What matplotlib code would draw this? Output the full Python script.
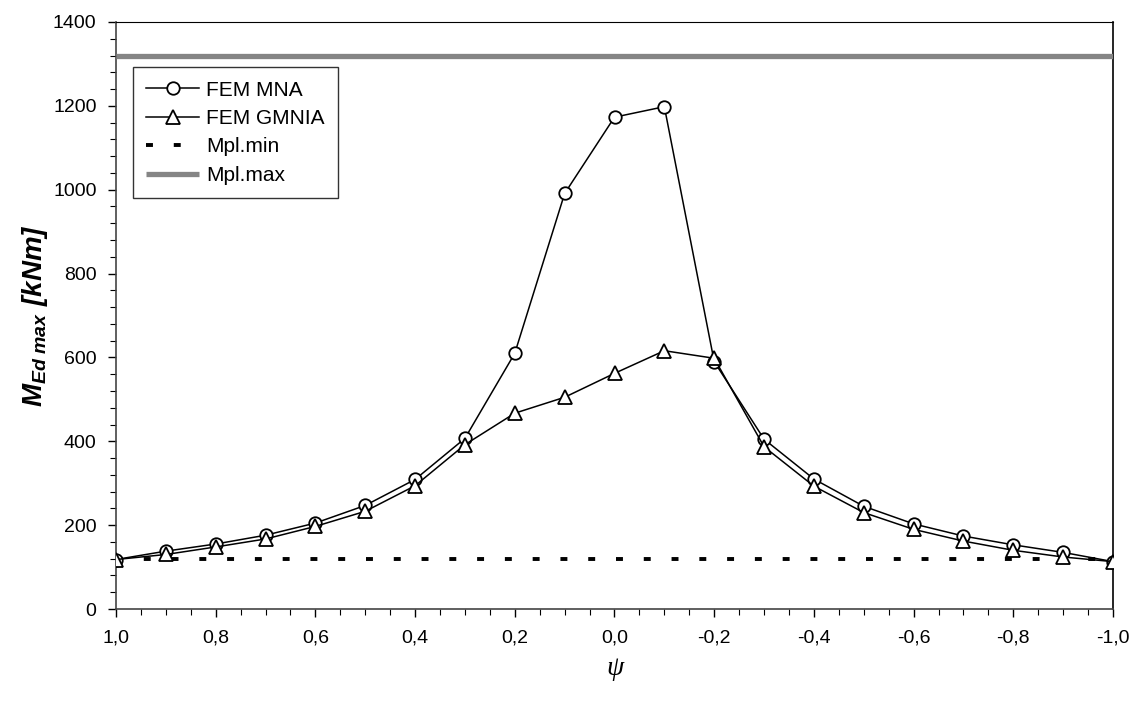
import matplotlib
matplotlib.use("Agg")
import matplotlib.pyplot as plt
from matplotlib.ticker import MultipleLocator, FuncFormatter

plt.rcParams['font.family'] = ['Liberation Sans', 'DejaVu Sans']
plt.rcParams['mathtext.fontset'] = 'custom'
plt.rcParams['mathtext.it'] = 'Liberation Sans:bold:italic'
plt.rcParams['mathtext.rm'] = 'Liberation Sans:bold:italic'
plt.rcParams['lines.scale_dashes'] = False

# ---- data ----
psi = [1.0, 0.9, 0.8, 0.7, 0.6, 0.5, 0.4, 0.3, 0.2, 0.1, 0.0,
       -0.1, -0.2, -0.3, -0.4, -0.5, -0.6, -0.7, -0.8, -0.9, -1.0]
fem_mna = [118, 138, 155, 176, 205, 247, 309, 407, 610, 991, 1173,
           1198, 590, 405, 310, 245, 203, 174, 153, 135, 113]
fem_gmnia = [118, 130, 148, 167, 197, 233, 294, 392, 467, 505, 562,
             616, 598, 387, 293, 230, 190, 162, 140, 124, 113]
mpl_psi = [1.0, -1.0]
mpl_min = [120, 120]
mpl_max = [1320, 1320]

fig = plt.figure(figsize=(11.4, 7.08), dpi=100)
ax = fig.add_axes([116/1140, 1 - 609/708, (1113-116)/1140, (609-22)/708])

ax.plot(psi, fem_mna, color='black', lw=1.1, marker='o', ms=9,
        mfc='white', mec='black', mew=1.3, label='FEM MNA', zorder=4)
ax.plot(psi, fem_gmnia, color='black', lw=1.1, marker='^', ms=9.5,
        mfc='white', mec='black', mew=1.3, label='FEM GMNIA', zorder=4)
ln_min, = ax.plot(mpl_psi, mpl_min, color='black', lw=2.8, label='Mpl.min',
                  solid_capstyle='butt', dash_capstyle='butt', zorder=3)
ln_min.set_dashes([5, 15])
ax.plot(mpl_psi, mpl_max, color='#858585', lw=3.8, label='Mpl.max',
        solid_capstyle='butt', zorder=3)

ax.set_xlim(1.0, -1.0)
ax.set_ylim(0, 1400)

ax.xaxis.set_major_locator(MultipleLocator(0.2))
ax.xaxis.set_minor_locator(MultipleLocator(0.05))
ax.yaxis.set_major_locator(MultipleLocator(200))
ax.yaxis.set_minor_locator(MultipleLocator(40))

def fmt_x(v, pos):
    if abs(v) < 1e-9:
        v = 0.0
    return f"{v:.1f}".replace('.', ',')

ax.xaxis.set_major_formatter(FuncFormatter(fmt_x))
ax.tick_params(axis='both', which='major', direction='out', length=6,
               width=1.0, labelsize=14, colors='black')
ax.tick_params(axis='both', which='minor', direction='out', length=4, width=0.8)
ax.tick_params(axis='x', which='major', pad=9)
ax.tick_params(axis='y', which='major', pad=8)

for s in ['left', 'bottom']:
    ax.spines[s].set_color('#444444')
    ax.spines[s].set_linewidth(1.2)
ax.spines['top'].set_linewidth(0.8)
ax.spines['right'].set_linewidth(1.2)

ax.set_ylabel(r'$M_{Ed\ max}\ [kNm]$', fontsize=20)
ax.yaxis.set_label_coords(-0.066, 0.5)
ax.set_xlabel('ψ', fontsize=20, fontstyle='italic',
              family=['Liberation Serif', 'DejaVu Serif'])
ax.xaxis.set_label_coords(0.5, -0.08)

leg = ax.legend(loc='upper left', bbox_to_anchor=(0.017, 0.923),
                borderaxespad=0, frameon=True, fancybox=False,
                edgecolor='black', fontsize=15, handlelength=2.5,
                handletextpad=0.35, labelspacing=0.45, borderpad=0.65)
leg.get_frame().set_linewidth(1.0)

fig.savefig('out.png', dpi=100)
